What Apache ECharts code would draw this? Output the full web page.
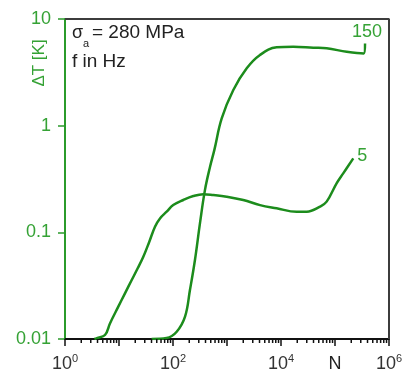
<!DOCTYPE html>
<html>
<head>
<meta charset="utf-8">
<script src="https://cdn.jsdelivr.net/npm/echarts@6/dist/echarts.min.js"></script>
<style>
html,body{margin:0;padding:0;background:#fff;}
#chart{width:407px;height:378px;}
</style>
</head>
<body>
<div id="chart"></div>
<script>
// ---- data ----
const seriesNames = ['5', '150'];
const N5 = [3.5, 3.9, 5.5, 6.8, 9.7, 12.9, 17.2, 22.2, 28.2, 36.4, 46.4, 57.4, 76.4, 101, 155, 238, 364, 557, 986, 2000, 4090, 8300, 19500, 30000, 52700, 70000, 107000, 142000, 218000];
const T5 = [0.01, 0.0102, 0.0109, 0.014, 0.0201, 0.0268, 0.0357, 0.046, 0.059, 0.0817, 0.113, 0.135, 0.156, 0.18, 0.201, 0.219, 0.228, 0.224, 0.216, 0.201, 0.18, 0.168, 0.156, 0.156, 0.174, 0.194, 0.288, 0.357, 0.494];
const N150 = [40, 76, 117, 167, 206, 255, 316, 391, 484, 582, 798, 1309, 2317, 4083, 8320, 16900, 39600, 70100, 165000, 340000, 360000];
const T150 = [0.01, 0.0102, 0.0117, 0.0162, 0.0288, 0.055, 0.122, 0.25, 0.41, 0.59, 1.17, 2.16, 3.45, 4.6, 5.43, 5.5, 5.38, 5.31, 4.93, 4.76, 5.9];
const yTickLabels = {0.01: '0.01', 0.1: '0.1', 1: '1', 10: '10'};
const xExpLabels = ['0', '', '2', '', '4', 'N', '6']; // exponent per decade, 'N' = axis name
const minorMultipliers = [2, 3, 4, 5, 6, 7, 8, 9];
const X_MIN = 1, X_MAX = 1e6, Y_MIN = 0.01, Y_MAX = 10;

const GRID = {left: 65, right: 18, top: 19, bottom: 39};
const GREEN_TEXT = '#35a235';
const GREEN_AXIS = '#2b9b2b';
const GREEN_LINE = '#1c8c1c';
const FONT = '"Liberation Sans", Arial, sans-serif';

function pairs(xs, ys) { return xs.map((x, i) => [x, ys[i]]); }

const chart = echarts.init(document.getElementById('chart'));

// decorative frame + log-spaced minor ticks as plain line series (through the axes' scales)
const L = Math.log10;
const decPxX = (chart.getWidth() - GRID.left - GRID.right) / (L(X_MAX) - L(X_MIN));
const decPxY = (chart.getHeight() - GRID.top - GRID.bottom) / (L(Y_MAX) - L(Y_MIN));
function deco(points, color, width) {
  return {type: 'line', data: points, symbol: 'none', showSymbol: false, silent: true, clip: false,
          animation: false, emphasis: {disabled: true}, tooltip: {show: false},
          lineStyle: {color: color, width: width}, z: 4};
}
const decoSeries = [deco([[X_MIN, Y_MAX], [X_MAX, Y_MAX], [X_MAX, Y_MIN]], '#3c3c3c', 2)];
for (let k = 0; k < 6; k++) minorMultipliers.forEach(m => {
  const v = m * Math.pow(10, k);
  decoSeries.push(deco([[v, Y_MIN], [v, Y_MIN * Math.pow(10, -4 / decPxY)]], '#111', 1.5));
});
for (let k = -2; k < 1; k++) minorMultipliers.forEach(m => {
  const v = m * Math.pow(10, k);
  decoSeries.push(deco([[X_MIN, v], [X_MIN * Math.pow(10, -4 / decPxX), v]], GREEN_AXIS, 1.5));
});

chart.setOption({
  animation: false,
  grid: {left: GRID.left, right: GRID.right, top: GRID.top, bottom: GRID.bottom},
  xAxis: {
    type: 'log', min: X_MIN, max: X_MAX,
    axisLine: {lineStyle: {color: '#111', width: 2}},
    axisTick: {length: 7, lineStyle: {color: '#111', width: 1.5}},
    splitLine: {show: false},
    axisLabel: {
      margin: 14, color: '#333', fontFamily: FONT, fontSize: 18,
      formatter: function (v) {
        const e = Math.round(Math.log10(v));
        const lab = xExpLabels[e];
        if (!lab) return '';
        if (lab === 'N') return '{n|N}';
        return '{b|10}{s|' + lab + '}';
      },
      rich: {
        b: {fontSize: 18, fontFamily: FONT, color: '#333', lineHeight: 22},
        s: {fontSize: 11, fontFamily: FONT, color: '#333', verticalAlign: 'top', lineHeight: 22, padding: [0, 0, 8, 0]},
        n: {fontSize: 18, fontFamily: FONT, color: '#222', lineHeight: 22}
      }
    }
  },
  yAxis: {
    type: 'log', min: Y_MIN, max: Y_MAX,
    axisLine: {lineStyle: {color: GREEN_AXIS, width: 2}},
    axisTick: {length: 7, lineStyle: {color: GREEN_AXIS, width: 1.5}},
    splitLine: {show: false},
    axisLabel: {
      margin: 14, color: GREEN_TEXT, fontFamily: FONT, fontSize: 18,
      formatter: function (v) {
        const key = Object.keys(yTickLabels).find(k => Math.abs(Math.log10(+k) - Math.log10(v)) < 1e-6);
        return key ? yTickLabels[key] : '';
      }
    }
  },
  graphic: [
    {type: 'text', x: 39, y: 63, rotation: Math.PI / 2,
     style: {text: 'ΔT [K]', fill: GREEN_TEXT, font: '17px ' + FONT, align: 'center', verticalAlign: 'middle'}},
    {type: 'text', x: 72, y: 33, style: {text: 'σ', fill: '#222', font: '18px ' + FONT, align: 'left', verticalAlign: 'middle'}},
    {type: 'text', x: 83, y: 43.5, style: {text: 'a', fill: '#222', font: '11px ' + FONT, align: 'left', verticalAlign: 'middle'}},
    {type: 'text', x: 92, y: 33, style: {text: '= 280 MPa', fill: '#222', font: '19px ' + FONT, align: 'left', verticalAlign: 'middle'}},
    {type: 'text', x: 72, y: 62, style: {text: 'f in Hz', fill: '#222', font: '19px ' + FONT, align: 'left', verticalAlign: 'middle'}}
  ],
  series: [
    {
      name: seriesNames[0], type: 'line', data: pairs(N5, T5), showSymbol: false,
      smooth: 0.4,
      lineStyle: {color: GREEN_LINE, width: 2.5}, itemStyle: {color: GREEN_LINE},
      endLabel: {show: true, formatter: seriesNames[0], color: GREEN_TEXT, fontFamily: FONT, fontSize: 18,
                 distance: 4, align: 'left', verticalAlign: 'middle', offset: [0, -2]}
    },
    {
      name: seriesNames[1], type: 'line', data: pairs(N150, T150), showSymbol: false,
      smooth: 0.4,
      lineStyle: {color: GREEN_LINE, width: 2.5}, itemStyle: {color: GREEN_LINE},
      endLabel: {show: true, formatter: seriesNames[1], color: GREEN_TEXT, fontFamily: FONT, fontSize: 18,
                 distance: 0, align: 'center', verticalAlign: 'bottom', offset: [2, -2]}
    }
  ].concat(decoSeries)
});
</script>
</body>
</html>
